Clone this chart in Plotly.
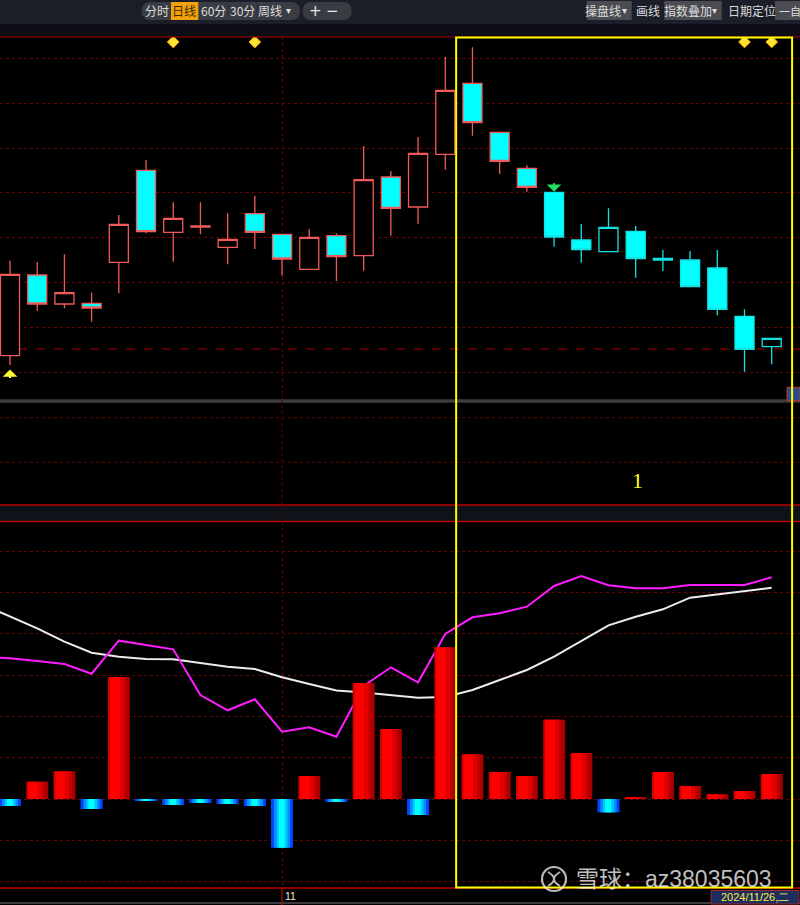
import plotly.graph_objects as go

W, H = 800, 905

# ---------------- data ----------------
idx = list(range(29))
opens = [14.43, 22.50, 19.60, 19.67, 23.77, 32.97, 26.77, 27.30, 25.27, 28.63,
         26.57, 23.07, 26.43, 24.43, 32.30, 29.30, 34.57, 41.67, 36.77, 33.17,
         30.77, 26.00, 24.83, 26.87, 24.17, 24.00, 23.20, 18.37, 15.33]
highs = [23.93, 23.80, 24.57, 20.73, 28.50, 34.00, 29.77, 29.77, 28.67, 30.43,
         26.57, 27.07, 26.67, 35.40, 32.90, 36.30, 44.30, 45.27, 36.77, 33.47,
         30.77, 27.60, 29.17, 27.40, 25.00, 24.90, 25.00, 19.07, 16.17]
lows = [13.50, 18.93, 19.17, 17.83, 20.67, 26.67, 23.83, 26.57, 23.57, 25.10,
        22.43, 23.07, 21.90, 22.93, 26.43, 27.63, 33.03, 36.43, 32.60, 30.83,
        25.33, 23.73, 24.83, 22.23, 22.90, 21.27, 18.47, 12.83, 13.57]
closes = [22.57, 19.60, 20.73, 19.20, 27.57, 26.83, 28.17, 27.40, 26.07, 26.77,
          24.10, 26.27, 24.33, 32.03, 29.17, 34.67, 40.97, 37.73, 33.87, 31.27,
          26.30, 25.03, 27.27, 24.13, 24.00, 21.33, 19.07, 15.07, 16.17]
trend_state = [1] * 20 + [0] * 9          # 1 = red phase, 0 = cyan phase

diamond_idx = [6, 9, 27, 28]
buy_idx = [0]
sell_idx = [20]
ref_price = 15.1

line_x = list(range(-1, 29))
white_line = [194.3, 182.3, 170.7, 157.3, 146.3, 142.3, 140.0, 139.7, 136.3, 132.3,
              130.0, 121.7, 115.0, 108.5, 106.5, 104.0, 101.3, 102.0, 109.0, 119.0,
              129.0, 142.3, 158.0, 173.7, 182.3, 189.7, 201.3, 204.7, 208.3, 211.3]
magenta_line = [142.0, 140.7, 138.0, 135.0, 125.3, 158.3, 154.0, 149.7, 104.0, 88.7,
                99.7, 67.3, 71.7, 62.3, 113.0, 131.7, 116.7, 165.0, 181.7, 185.7,
                192.3, 213.0, 223.0, 213.7, 210.7, 210.7, 214.0, 214.0, 214.0, 221.7]
hist = [-7, 17.3, 27.7, -10, 122, -1.3, -6, -4, -5, -7,
        -48.7, 23, -3, 116, 70, -16, 151.7, 44.7, 27, 23,
        79.3, 46, -13.3, 2, 27, 13, 4.7, 8, 25]

month_tick_idx = 10
month_tick_label = "11"
date_label = "2024/11/26,二"
box_label = "1"
watermark = "雪球：az38035603"
toolbar_left = ["分时", "日线", "60分", "30分", "周线"]

# ---------------- helpers ----------------
def px(x):
    return x / W

def py(y):
    return 1 - y / H

shapes = []
annotations = []

def rect(x0, y0, x1, y1, fill, line=None, lw=0, layer="below"):
    shapes.append(dict(type="rect", xref="paper", yref="paper",
                       x0=px(x0), x1=px(x1), y0=py(y1), y1=py(y0),
                       fillcolor=fill, line=dict(color=line or fill, width=lw),
                       layer=layer))

def hline(y, x0, x1, color, width=1, dash="solid", layer="below"):
    shapes.append(dict(type="line", xref="paper", yref="paper",
                       x0=px(x0), x1=px(x1), y0=py(y), y1=py(y),
                       line=dict(color=color, width=width, dash=dash), layer=layer))

def pill(x0, y0, x1, y1, fill):
    r = (y1 - y0) / 2
    p = (f"M {px(x0 + r)},{py(y0)} L {px(x1 - r)},{py(y0)} "
         f"Q {px(x1)},{py(y0)} {px(x1)},{py(y0 + r)} "
         f"Q {px(x1)},{py(y1)} {px(x1 - r)},{py(y1)} "
         f"L {px(x0 + r)},{py(y1)} "
         f"Q {px(x0)},{py(y1)} {px(x0)},{py(y0 + r)} "
         f"Q {px(x0)},{py(y0)} {px(x0 + r)},{py(y0)} Z")
    shapes.append(dict(type="path", xref="paper", yref="paper", path=p,
                       fillcolor=fill, line=dict(width=0), layer="below"))

def label(x, y, text, size=12, color="#dcdcdc", family="Noto Sans CJK SC",
          xanchor="center"):
    annotations.append(dict(xref="paper", yref="paper", x=px(x), y=py(y),
                            text=text, showarrow=False, xanchor=xanchor,
                            yanchor="middle",
                            font=dict(size=size, color=color, family=family)))

GRID = "#6a0000"

# ---------------- traces ----------------
fig = go.Figure()

salmon = "#f25a5a"
cyan_line = "#12e2e2"
for state, col in [(1, salmon), (0, cyan_line)]:
    sel = [i for i in idx if trend_state[i] == state]
    fig.add_trace(go.Candlestick(
        x=[idx[i] for i in sel],
        open=[opens[i] for i in sel], high=[highs[i] for i in sel],
        low=[lows[i] for i in sel], close=[closes[i] for i in sel],
        increasing=dict(line=dict(color=col, width=1.3), fillcolor="#000000"),
        decreasing=dict(line=dict(color=col, width=1.3), fillcolor="#00ffff"),
        whiskerwidth=0, hoverinfo="skip", showlegend=False,
        xaxis="x", yaxis="y"))

ytop = 45.8
fig.add_trace(go.Scatter(
    x=diamond_idx, y=[ytop] * len(diamond_idx), mode="markers",
    marker=dict(symbol="diamond", size=9, color="#ffe135",
                line=dict(color="#ffb000", width=1)),
    hoverinfo="skip", showlegend=False, xaxis="x", yaxis="y"))

for i in buy_idx:
    annotations.append(dict(x=i, y=lows[i] - 0.45, xref="x", yref="y",
                            ax=0, ay=10, showarrow=True, arrowhead=1,
                            arrowsize=1.1, arrowwidth=2.2, arrowcolor="#ffff30",
                            text=""))
for i in sell_idx:
    annotations.append(dict(x=i, y=highs[i] + 0.05, xref="x", yref="y",
                            ax=0, ay=-10, showarrow=True, arrowhead=1,
                            arrowsize=1.1, arrowwidth=2.2, arrowcolor="#20e060",
                            text=""))

# indicator lines (base layer)
fig.add_trace(go.Scatter(x=line_x, y=white_line, mode="lines",
                         line=dict(color="#ececec", width=2),
                         hoverinfo="skip", showlegend=False,
                         xaxis="x2", yaxis="y2"))
fig.add_trace(go.Scatter(x=line_x, y=magenta_line, mode="lines",
                         line=dict(color="#ff1cff", width=2),
                         hoverinfo="skip", showlegend=False,
                         xaxis="x2", yaxis="y2"))

# histogram bars (overlay layer, drawn above lines)
pos_vals = [v if v > 0 else None for v in hist]
neg_vals = [v if v < 0 else None for v in hist]
red_layers = [(-0.405, 0.81, "#a80000"), (-0.37, 0.06, "#cc0000"),
              (-0.33, 0.37, "#ff0000"), (0.04, 0.15, "#e00000"),
              (0.19, 0.09, "#c00000")]
blue_layers = [(-0.405, 0.81, "#0044ff"), (-0.30, 0.60, "#0a88ff"),
               (-0.20, 0.40, "#00c8ff"), (-0.12, 0.22, "#00ffff")]
for off, wd, col in red_layers:
    fig.add_trace(go.Bar(x=idx, y=pos_vals, offset=off, width=wd,
                         marker=dict(color=col, line=dict(width=0)),
                         hoverinfo="skip", showlegend=False,
                         xaxis="x2", yaxis="y3"))
for off, wd, col in blue_layers:
    fig.add_trace(go.Bar(x=idx, y=neg_vals, offset=off, width=wd,
                         marker=dict(color=col, line=dict(width=0)),
                         hoverinfo="skip", showlegend=False,
                         xaxis="x2", yaxis="y3"))

# ---------------- decorations ----------------
# toolbar
rect(0, 0, 800, 24, "#1b1d28")
rect(0, 24, 800, 36.5, "#0e0f16")
pill(141.7, 2, 300, 20, "#3a3c43")
rect(171, 2, 198.3, 20, "#f2a00c")
pill(302.7, 2, 351.7, 20, "#3a3c43")
for xs in [227.8, 257.2]:
    shapes.append(dict(type="line", xref="paper", yref="paper", x0=px(xs), x1=px(xs),
                       y0=py(4), y1=py(18), line=dict(color="#2c2e34", width=1)))
lx = [157.3, 184.3, 213.3, 242.7, 270]
for x, t in zip(lx, toolbar_left):
    label(x, 11, t, size=12, color="#3a2a00" if t == "日线" else "#dcdcdc")
label(288.7, 11, "▾", size=10, family="DejaVu Sans")
label(315, 11, "+", size=15, color="#e6e6e6", family="DejaVu Sans")
label(332, 11, "−", size=15, color="#e6e6e6", family="DejaVu Sans")

rect(586.7, 1, 631.7, 20, "#4a4c52")
label(603, 11, "操盘线", size=12)
label(624, 11, "▾", size=10, family="DejaVu Sans")
label(648, 11, "画线", size=12)
rect(664.3, 1, 721.7, 20, "#4a4c52")
label(688, 11, "指数叠加", size=12)
label(714, 11, "▾", size=10, family="DejaVu Sans")
label(751.7, 11, "日期定位", size=12)
rect(775, 1, 800, 20, "#4a4c52")
label(776.5, 11, "一自", size=11, xanchor="left")

# panel borders / bands
hline(37, 0, 800, "#b00000", 1.2, layer="above")
rect(0, 399.3, 800, 402.7, "#3c3c3c")
hline(417.7, 0, 800, GRID, 1, "dot")
hline(462.3, 0, 800, GRID, 1, "dot")
rect(0, 505, 800, 521.5, "#10121a")
hline(505, 0, 800, "#b80000", 1.5)
hline(521.5, 0, 800, "#b80000", 1.5)
hline(888, 0, 800, "#c00000", 1.5, layer="above")
hline(903, 0, 800, "#505050", 1.5)

# month divider through middle panel and date strip
shapes.append(dict(type="line", xref="x", yref="paper", x0=month_tick_idx,
                   x1=month_tick_idx, y0=py(522), y1=py(400),
                   line=dict(color=GRID, width=1, dash="dot"), layer="below"))
shapes.append(dict(type="line", xref="x", yref="paper", x0=month_tick_idx,
                   x1=month_tick_idx, y0=py(905), y1=py(888),
                   line=dict(color="#c00000", width=1.2), layer="below"))
annotations.append(dict(x=month_tick_idx, y=py(896), xref="x", yref="paper",
                        text=month_tick_label, showarrow=False, xanchor="left",
                        xshift=1, yanchor="middle",
                        font=dict(size=10.5, color="#e8e8e8", family="Liberation Sans")))

# reference price dashed line
shapes.append(dict(type="line", xref="paper", yref="y", x0=0, x1=1,
                   y0=ref_price, y1=ref_price,
                   line=dict(color="#a80000", width=1, dash="dash"), layer="below"))

# price tag at right edge
rect(787, 387.3, 800, 400.7, "#2a4a8c", "#c03030", 1, layer="above")

# yellow selection box
shapes.append(dict(type="rect", xref="x", yref="paper", x0=16.4, x1=28.75,
                   y0=py(887.5), y1=py(37.5),
                   line=dict(color="#ffff00", width=2), fillcolor="rgba(0,0,0,0)",
                   layer="above"))
label(637, 480, box_label, size=22, color="#ffff20", family="Liberation Serif")

# date box
rect(711, 890.5, 799, 904, "#1d2d5e", "#a02828", 1, layer="above")
label(755, 897, date_label, size=11, color="#ffee40", family="Liberation Sans")

# watermark
shapes.append(dict(type="circle", xref="paper", yref="paper",
                   x0=px(542), x1=px(566), y0=py(891), y1=py(867),
                   line=dict(color="rgba(255,255,255,0.72)", width=2.2), layer="above"))
wp = (f"M {px(548)},{py(872)} Q {px(560)},{py(879)} {px(548)},{py(886)} "
      f"M {px(560)},{py(872)} Q {px(548)},{py(879)} {px(560)},{py(886)}")
shapes.append(dict(type="path", xref="paper", yref="paper", path=wp,
                   line=dict(color="rgba(255,255,255,0.72)", width=2), layer="above"))
label(674, 879, watermark, size=23, color="rgba(255,255,255,0.75)",
      family="Liberation Sans, Noto Sans CJK SC")

# ---------------- layout ----------------
xr = [-0.368, 29.04]
axis_common = dict(showticklabels=False, zeroline=False, showline=False, ticks="")
fig.update_layout(
    width=W, height=H, autosize=False,
    margin=dict(l=0, r=0, t=0, b=0, pad=0),
    paper_bgcolor="#000000", plot_bgcolor="#000000",
    showlegend=False, hovermode=False,
    barmode="overlay", boxgap=0.3, boxgroupgap=0,
    xaxis=dict(domain=[0, 1], range=xr, anchor="y", tickvals=[month_tick_idx],
               showgrid=True, gridcolor=GRID, griddash="dot", gridwidth=1,
               rangeslider=dict(visible=False), **axis_common),
    yaxis=dict(domain=[py(400), py(37)], range=[10, 46.3], anchor="x",
               tick0=12.8, dtick=4.48, showgrid=True, gridcolor=GRID,
               griddash="dot", gridwidth=1, **axis_common),
    xaxis2=dict(domain=[0, 1], range=xr, anchor="y2", tickvals=[month_tick_idx],
                showgrid=True, gridcolor=GRID, griddash="dot", gridwidth=1,
                **axis_common),
    yaxis2=dict(domain=[py(887), py(522)], range=[-88, 277], anchor="x2",
                tick0=0, dtick=41.3, showgrid=True, gridcolor=GRID,
                griddash="dot", gridwidth=1, **axis_common),
    yaxis3=dict(range=[-88, 277], overlaying="y2", anchor="x2", showgrid=False,
                **axis_common),
    shapes=shapes, annotations=annotations,
)

fig.write_html("out.html", config={"displayModeBar": False},
               post_script="document.body.style.margin='0px';"
                           "document.body.style.overflow='hidden';")
